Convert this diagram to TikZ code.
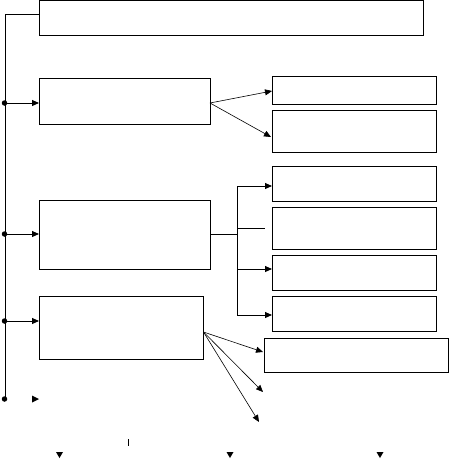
\documentclass[tikz,border=0pt]{standalone}
\usetikzlibrary{arrows.meta}
\begin{document}
\begin{tikzpicture}[x=1pt,y=-1pt,line width=0.9pt,
  box/.style={draw,rectangle,inner sep=0pt,outer sep=0pt,anchor=north west},
  tip/.style={-{Triangle[length=7pt,width=6pt]}},
  thin tip/.style={line width=0.6pt,-{Triangle[length=7pt,width=6pt]}},
  dot/.style={circle,fill,inner sep=0pt,minimum size=5.5pt}]
\useasboundingbox (0,0) rectangle (450,461);
% boxes
\node[box,minimum width=384pt,minimum height=34.5pt] (top) at (39,0.5) {};
\node[box,minimum width=171pt,minimum height=46pt] (b2) at (39,78) {};
\node[box,minimum width=171pt,minimum height=69pt] (b3) at (39,200) {};
\node[box,minimum width=164pt,minimum height=63pt] (b4) at (39,296) {};
\node[box,minimum width=164pt,minimum height=28pt] (r1) at (272,76) {};
\node[box,minimum width=164pt,minimum height=42pt] (r2) at (272,110) {};
\node[box,minimum width=164pt,minimum height=35pt] (r3) at (272,166) {};
\node[box,minimum width=164pt,minimum height=42pt] (r4) at (272,207) {};
\node[box,minimum width=164pt,minimum height=35pt] (r5) at (272,255) {};
\node[box,minimum width=164pt,minimum height=35pt] (r6) at (272,296) {};
\node[box,minimum width=184pt,minimum height=34pt] (r7) at (264,338) {};
% spine
\coordinate (s0) at (5,14);
\coordinate (s4) at (5,399);
\draw (s0) -- (s4);
\draw (s0) -- (s0 -| top.west);
\node[dot] (d1) at (4.5,103) {};
\node[dot] (d2) at (4.5,234) {};
\node[dot] (d3) at (4.5,321) {};
\node[dot] (d4) at (4.5,399) {};
\draw[tip] (d1.center) -- (d1 -| b2.west);
\draw[tip] (d2.center) -- (d2 -| b3.west);
\draw[tip] (d3.center) -- (d3 -| b4.west);
\fill (32,395.5) -- (39,399) -- (32,402.5) -- cycle;
% b2 fan
\coordinate (o2) at (210,103);
\draw[thin tip] (o2) -- (272,91);
\draw[thin tip] (o2) -- (271,137);
% b3 bracket
\coordinate (j) at (237,234.5);
\draw (b3.east) -- (j);
\coordinate (v1) at (237,186);
\coordinate (v2) at (237,228);
\coordinate (v3) at (237,269);
\coordinate (v4) at (237,315);
\draw (v1) -- (v4);
\draw[tip] (v1) -- (v1 -| r3.west);
\draw (v2) -- (265,228);
\draw[tip] (v3) -- (v3 -| r5.west);
\draw[tip] (v4) -- (v4 -| r6.west);
% b4 fan
\coordinate (o4) at (203.5,332);
\coordinate (e2) at (263,392);
\coordinate (e3) at (259,422);
\draw[thin tip] (o4) -- (263,352);
\draw[thin tip] (o4) -- (e2);
\draw[thin tip] (o4) -- (e3);
% bottom marks
\draw (128,439) -- (128,446);
\fill (56,452) -- (63,452) -- (59.5,458) -- cycle;
\fill (226.5,452) -- (233.5,452) -- (230,458) -- cycle;
\fill (376.5,452) -- (383.5,452) -- (380,458) -- cycle;
\end{tikzpicture}
\end{document}
